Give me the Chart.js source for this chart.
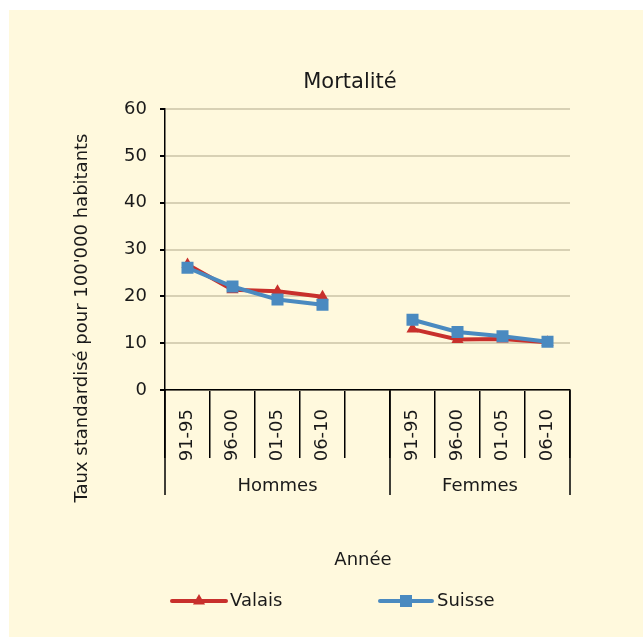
<!DOCTYPE html>
<html>
<head>
<meta charset="utf-8">
<script src="https://cdn.jsdelivr.net/npm/chart.js@4/dist/chart.umd.min.js"></script>
<style>
  html, body { margin: 0; padding: 0; background: #ffffff; }
  #wrap { width: 643px; height: 638px; }
</style>
</head>
<body>
<div id="wrap"><canvas id="c" width="643" height="638"></canvas></div>
<script>
// Period labels, with an empty slot separating the two sex groups
const periods = ['91-95', '96-00', '01-05', '06-10', '', '91-95', '96-00', '01-05', '06-10'];
const groups = ['Hommes', 'Femmes'];
// Standardised mortality rate per 100'000 inhabitants
const valais = [26.8, 21.4, 21.1, 19.9, null, 13.0, 10.8, 10.9, 10.2];
const suisse = [26.1, 22.1, 19.3, 18.2, null, 15.0, 12.4, 11.5, 10.3];
const yTicks = [0, 10, 20, 30, 40, 50, 60];

const RED = '#C8302C';
const BLUE = '#4A8AC0';
const FONT = '"DejaVu Sans", Verdana, sans-serif';
const TEXT = '#1a1a1a';
const SIZE = 18;

const decorations = {
  id: 'decorations',
  beforeDraw(chart) {
    const ctx = chart.ctx;
    ctx.save();
    ctx.fillStyle = '#ffffff';
    ctx.fillRect(0, 0, chart.width, chart.height);
    ctx.fillStyle = '#FFF9DD';
    ctx.fillRect(9, 10, chart.width - 9, chart.height - 11);
    ctx.restore();
  },
  afterDraw(chart) {
    const ctx = chart.ctx;
    const x = chart.scales.x;
    const area = chart.chartArea;
    const half = (x.getPixelForValue(1) - x.getPixelForValue(0)) / 2;
    const left = x.getPixelForValue(0) - half;
    const mid = x.getPixelForValue(4) + half;
    const right = x.getPixelForValue(8) + half;
    ctx.save();
    // group separators below the axis
    ctx.strokeStyle = '#000000';
    ctx.lineWidth = 1.5;
    [left, mid, right].forEach(px => {
      ctx.beginPath();
      ctx.moveTo(px, area.bottom);
      ctx.lineTo(px, area.bottom + 105);
      ctx.stroke();
    });
    ctx.fillStyle = TEXT;
    ctx.font = SIZE + 'px ' + FONT;
    ctx.textAlign = 'center';
    ctx.textBaseline = 'middle';
    ctx.fillText(groups[0], (left + mid) / 2, area.bottom + 96);
    ctx.fillText(groups[1], (mid + right) / 2, area.bottom + 96);

    // title
    ctx.font = '21px ' + FONT;
    ctx.fillText('Mortalité', 350, 83);

    // axis titles
    ctx.font = SIZE + 'px ' + FONT;
    ctx.fillText('Année', 363, 560);
    ctx.save();
    ctx.translate(82, 318);
    ctx.rotate(-Math.PI / 2);
    ctx.fillText("Taux standardisé pour 100'000 habitants", 0, 0);
    ctx.restore();

    // legend
    const items = [
      { label: 'Valais', color: RED, style: 'triangle', x0: 172, x1: 226, tx: 230, r: 7 },
      { label: 'Suisse', color: BLUE, style: 'rect', x0: 380, x1: 432, tx: 437, r: 8.5 }
    ];
    const ly = 601;
    items.forEach(it => {
      ctx.strokeStyle = it.color;
      ctx.lineWidth = 4;
      ctx.lineCap = 'round';
      ctx.beginPath();
      ctx.moveTo(it.x0, ly);
      ctx.lineTo(it.x1, ly);
      ctx.stroke();
      ctx.fillStyle = it.color;
      Chart.helpers.drawPoint(ctx, { pointStyle: it.style, radius: it.r, borderWidth: 0 }, (it.x0 + it.x1) / 2, ly);
      ctx.fillStyle = TEXT;
      ctx.textAlign = 'left';
      ctx.fillText(it.label, it.tx, ly);
    });
    ctx.restore();
  }
};

new Chart(document.getElementById('c'), {
  type: 'line',
  data: {
    labels: periods,
    datasets: [
      {
        label: 'Valais',
        data: valais,
        borderColor: RED,
        backgroundColor: RED,
        borderWidth: 4,
        pointStyle: 'triangle',
        pointRadius: 7,
        pointBorderWidth: 0,
        spanGaps: false,
        order: 2
      },
      {
        label: 'Suisse',
        data: suisse,
        borderColor: BLUE,
        backgroundColor: BLUE,
        borderWidth: 4,
        pointStyle: 'rect',
        pointRadius: 8.5,
        pointBorderWidth: 0,
        spanGaps: false,
        order: 1
      }
    ]
  },
  options: {
    responsive: false,
    animation: false,
    layout: { padding: { top: 109, right: 73, left: 0, bottom: 0 } },
    plugins: {
      legend: { display: false },
      title: { display: false },
      tooltip: { enabled: false }
    },
    scales: {
      x: {
        type: 'category',
        offset: true,
        grid: {
          offset: true,
          drawOnChartArea: false,
          drawTicks: true,
          tickLength: 68,
          color: '#000000',
          tickColor: '#000000',
          lineWidth: 1.5
        },
        border: { display: true, color: '#000000', width: 1.5 },
        ticks: {
          autoSkip: false,
          minRotation: 90,
          maxRotation: 90,
          padding: -49,
          color: TEXT,
          font: { family: FONT, size: SIZE }
        },
        afterFit(scale) { scale.height = 248; }
      },
      y: {
        min: 0,
        max: 60,
        afterBuildTicks(scale) { scale.ticks = yTicks.map(v => ({ value: v })); },
        grid: {
          color: '#D8D1B4',
          lineWidth: 2,
          tickLength: 5,
          tickColor: '#000000',
          drawTicks: true
        },
        border: { display: true, color: '#000000', width: 1.5 },
        ticks: {
          padding: 13,
          color: TEXT,
          font: { family: FONT, size: SIZE }
        },
        afterFit(scale) { scale.width = 165; }
      }
    }
  },
  plugins: [decorations]
});
</script>
</body>
</html>
